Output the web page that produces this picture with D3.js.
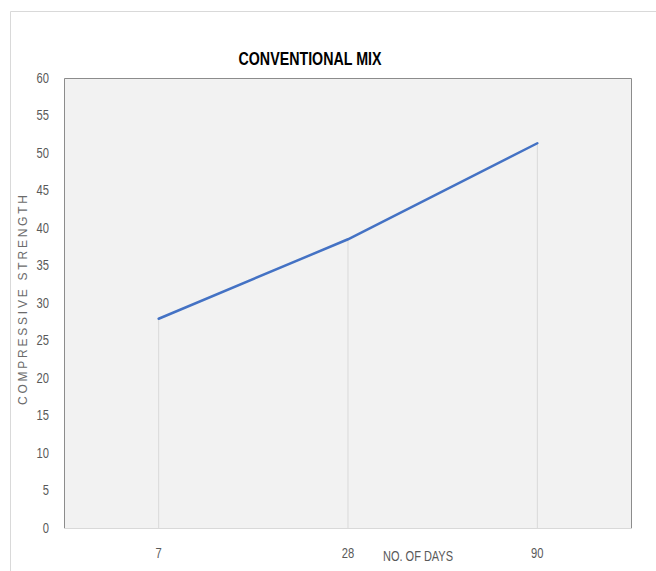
<!DOCTYPE html>
<html>
<head>
<meta charset="utf-8">
<script src="https://cdn.jsdelivr.net/npm/d3@7"></script>
<style>
  body { margin: 0; background: #fff; }
  svg { display: block; }
</style>
</head>
<body>
<svg class="chart-svg" width="656" height="571"></svg>
<script>
'use strict'

const days = ['7', '28', '90']
const strength = [27.9, 38.5, 51.3]
const yTicks = [0, 5, 10, 15, 20, 25, 30, 35, 40, 45, 50, 55, 60]
const chartTitle = 'CONVENTIONAL MIX'
const xTitle = 'NO. OF DAYS'
const yTitle = 'COMPRESSIVE STRENGTH'

const svg = d3.select('.chart-svg')
const plot = { left: 64, top: 78, right: 632, bottom: 528 }
const narrow = '"Liberation Sans Narrow", "Arial Narrow", Arial, sans-serif'

const data = days.map((d, i) => ({ day: d, value: strength[i] }))

const xScale = d3.scaleBand().domain(days).range([plot.left, plot.right])
const yScale = d3.scaleLinear().domain([0, 60]).range([plot.bottom, plot.top])

// outer chart frame
svg.append('path')
  .attr('d', 'M10.5,571 V11.5 H656')
  .attr('fill', 'none')
  .attr('stroke', '#d9d9d9')

// plot area
svg.append('rect')
  .attr('x', plot.left).attr('y', plot.top)
  .attr('width', plot.right - plot.left).attr('height', plot.bottom - plot.top)
  .attr('fill', '#f2f2f2')

// drop lines
svg.selectAll('.drop').data(data).enter().append('line')
  .attr('class', 'drop')
  .attr('x1', d => xScale(d.day) + xScale.bandwidth() / 2)
  .attr('x2', d => xScale(d.day) + xScale.bandwidth() / 2)
  .attr('y1', d => yScale(d.value))
  .attr('y2', yScale(0))
  .attr('stroke', '#d9d9d9')
  .attr('stroke-width', 1)

// borders
svg.append('line')
  .attr('x1', plot.left).attr('x2', plot.right)
  .attr('y1', plot.bottom + 0.5).attr('y2', plot.bottom + 0.5)
  .attr('stroke', '#d9d9d9')
svg.append('path')
  .attr('d', `M${plot.left + 0.5},${plot.bottom} V${plot.top + 0.5} H${plot.right - 0.5} V${plot.bottom}`)
  .attr('fill', 'none')
  .attr('stroke', '#8c8c8c')

// y axis labels
const yAxis = d3.axisLeft(yScale).tickValues(yTicks).tickSize(0).tickPadding(15)
const gy = svg.append('g')
  .attr('transform', `translate(${plot.left},0)`)
  .call(yAxis)
gy.select('.domain').remove()
gy.selectAll('text')
  .attr('fill', '#595959')
  .style('font-family', narrow)
  .style('font-size', '14px')
  .attr('transform', 'scale(0.8,1)')
  .attr('x', -15 / 0.8)

// x axis labels
const xAxis = d3.axisBottom(xScale).tickSize(0).tickPadding(20)
const gx = svg.append('g')
  .attr('transform', `translate(0,${plot.bottom})`)
  .call(xAxis)
gx.select('.domain').remove()
gx.selectAll('text')
  .attr('fill', '#595959')
  .style('font-family', narrow)
  .style('font-size', '14px')
  .attr('transform', 'scale(0.8,1)')

// the line
svg.append('path')
  .datum(data)
  .attr('fill', 'none')
  .attr('stroke', '#4472c4')
  .attr('stroke-width', 2.5)
  .attr('stroke-linecap', 'round')
  .attr('d', d3.line()
    .x(d => xScale(d.day) + xScale.bandwidth() / 2)
    .y(d => yScale(d.value)))

// titles
svg.append('text')
  .attr('x', 310).attr('y', 65)
  .attr('text-anchor', 'middle')
  .attr('fill', '#000')
  .attr('textLength', 143)
  .attr('lengthAdjust', 'spacingAndGlyphs')
  .style('font-family', narrow)
  .style('font-weight', 'bold')
  .style('font-size', '18px')
  .text(chartTitle)

svg.append('text')
  .attr('x', 418).attr('y', 561)
  .attr('text-anchor', 'middle')
  .attr('fill', '#595959')
  .attr('textLength', 70)
  .attr('lengthAdjust', 'spacingAndGlyphs')
  .style('font-family', narrow)
  .style('font-size', '14px')
  .text(xTitle)

svg.append('text')
  .attr('transform', 'translate(27,300) rotate(-90)')
  .attr('text-anchor', 'middle')
  .attr('fill', '#6b6b6b')
  .attr('textLength', 210)
  .attr('lengthAdjust', 'spacing')
  .style('font-family', 'Arial, "Liberation Sans", sans-serif')
  .style('font-size', '12px')
  .text(yTitle)
</script>
</body>
</html>
